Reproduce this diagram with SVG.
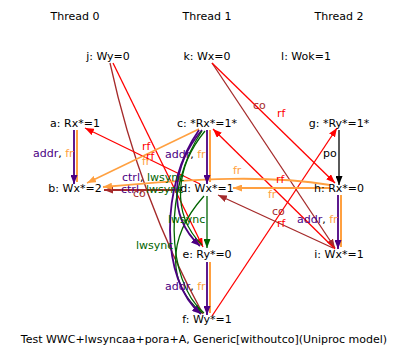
<svg xmlns="http://www.w3.org/2000/svg" width="410" height="361" viewBox="0 0 410 361">
<style>
text{font-family:"DejaVu Sans",sans-serif;font-size:11px;fill:#000}
.t{text-anchor:middle}
.e{fill:none;stroke-width:1.3}
.ind{stroke:#4b0082;stroke-width:1.8}
.org{stroke:#ffa040;stroke-width:2}
.grn{stroke:#006400}
.red{stroke:#ff0000}
.brn{stroke:#a52a2a}
.blk{stroke:#000}
.li{fill:#4b0082}.lo{fill:#ffa040}.lg{fill:#006400}.lr{fill:#ff0000}.lb{fill:#a52a2a}
</style>
<defs>
<marker id="mi" markerUnits="userSpaceOnUse" markerWidth="9" markerHeight="7" refX="9" refY="3.5" orient="auto"><path d="M0,0L9,3.5L0,7z" fill="#4b0082"/></marker>
<marker id="mo" markerUnits="userSpaceOnUse" markerWidth="9" markerHeight="7" refX="9" refY="3.5" orient="auto"><path d="M0,0L9,3.5L0,7z" fill="#ffa040"/></marker>
<marker id="mg" markerUnits="userSpaceOnUse" markerWidth="9" markerHeight="7" refX="9" refY="3.5" orient="auto"><path d="M0,0L9,3.5L0,7z" fill="#006400"/></marker>
<marker id="mr" markerUnits="userSpaceOnUse" markerWidth="9" markerHeight="7" refX="9" refY="3.5" orient="auto"><path d="M0,0L9,3.5L0,7z" fill="#ff0000"/></marker>
<marker id="mb" markerUnits="userSpaceOnUse" markerWidth="9" markerHeight="7" refX="9" refY="3.5" orient="auto"><path d="M0,0L9,3.5L0,7z" fill="#a52a2a"/></marker>
<marker id="mk" markerUnits="userSpaceOnUse" markerWidth="9" markerHeight="7" refX="9" refY="3.5" orient="auto"><path d="M0,0L9,3.5L0,7z" fill="#000"/></marker>
</defs>
<rect width="410" height="361" fill="#fff"/>
<g id="threads">
<text class="t" x="75" y="20">Thread 0</text>
<text class="t" x="207" y="20">Thread 1</text>
<text class="t" x="339" y="20">Thread 2</text>
</g>
<g id="edges">
<!-- co / rf / fr long edges -->
<path class="e brn" d="M110,63 Q140,200 203,314"/>
<path class="e red" d="M113,63 L203,247" marker-end="url(#mr)"/>
<path class="e brn" d="M212,63 L335,248" marker-end="url(#mb)"/>
<path class="e red" d="M212,63 L335,183" marker-end="url(#mr)"/>
<path class="e red" d="M200,184 L85,128" marker-end="url(#mr)"/>
<path class="e org" style="stroke-width:1.5" d="M199,129 L87,183" marker-end="url(#mo)"/>
<path class="e red" d="M335,249 L213,129" marker-end="url(#mr)"/>
<path class="e red" d="M212,316 L337,128" marker-end="url(#mr)"/>
<path class="e brn" d="M333,248 L218,195" marker-end="url(#mb)"/>
<path class="e brn" style="stroke-width:1.8" d="M182,190 L104,190" marker-end="url(#mb)"/>
<path class="e org" d="M330,188 L233,188" marker-end="url(#mo)"/>
<path class="e org" d="M330,185 C270,175 200,178 103,187" marker-end="url(#mo)"/>
<!-- po -->
<path class="e blk" d="M339,130 L339,185" marker-end="url(#mk)"/>
<!-- addr, fr -->
<path class="e org" d="M77,130 L77,182"/>
<path class="e ind" d="M74,130 L74,184" marker-end="url(#mi)"/>
<path class="e org" d="M210,130 L210,182"/>
<path class="e ind" d="M207,130 L207,184" marker-end="url(#mi)"/>
<path class="e org" d="M210,262 L210,313"/>
<path class="e ind" d="M207,262 L207,315" marker-end="url(#mi)"/>
<path class="e org" d="M341,195 L341,247"/>
<path class="e ind" d="M338,195 L338,249" marker-end="url(#mi)"/>
<!-- lwsync -->
<path class="e grn" d="M207,196 L207,248" marker-end="url(#mg)"/>
<path class="e grn" d="M204,196 C165,240 168,285 202,313" marker-end="url(#mg)"/>
<!-- ctrl, lwsync -->
<path class="e grn" d="M205,131 C176,166 170,213 202,245"/>
<path class="e ind" d="M202,130 C172,165 166,215 200,246" marker-end="url(#mi)"/>
<path class="e grn" d="M202,131 C164,186 165,280 204,313"/>
<path class="e ind" d="M199,130 C160,185 160,280 201,314" marker-end="url(#mi)"/>
</g>
<g id="labels">
<text x="33" y="157"><tspan class="li">addr</tspan>, <tspan class="lo">fr</tspan></text>
<text x="165" y="158"><tspan class="li">addr</tspan>, <tspan class="lo">fr</tspan></text>
<text x="165" y="290"><tspan class="li">addr</tspan>, <tspan class="lo">fr</tspan></text>
<text x="297" y="223"><tspan class="li">addr</tspan>, <tspan class="lo">fr</tspan></text>
<text x="323" y="157">po</text>
<text class="lg" x="168" y="223">lwsync</text>
<text class="lg" x="136" y="249">lwsync</text>
<text x="122" y="181"><tspan class="li">ctrl</tspan>, <tspan class="lg">lwsync</tspan></text>
<text x="121" y="193"><tspan class="li">ctrl</tspan>, <tspan class="lg">lwsync</tspan></text>
<text class="lb" x="133" y="197">co</text>
<text class="lb" x="253" y="109">co</text>
<text class="lr" x="277" y="117">rf</text>
<text class="lr" x="142" y="150">rf</text>
<text class="lr" x="146" y="160">rf</text>
<text class="lo" x="142" y="165">fr</text>
<text class="lo" x="233" y="174">fr</text>
<text class="lr" x="276" y="183">rf</text>
<text class="lo" x="268" y="198">fr</text>
<text class="lb" x="272" y="215">co</text>
<text class="lr" x="277" y="227">rf</text>
</g>
<g id="j"><text class="t" x="108" y="60">j: Wy=0</text></g>
<g id="k"><text class="t" x="207" y="60">k: Wx=0</text></g>
<g id="l"><text class="t" x="306" y="60">l: Wok=1</text></g>
<g id="a"><text class="t" x="75" y="127">a: Rx*=1</text></g>
<g id="c"><text class="t" x="207" y="127">c: *Rx*=1*</text></g>
<g id="g"><text class="t" x="339" y="127">g: *Ry*=1*</text></g>
<g id="b"><text class="t" x="75" y="192">b: Wx*=2</text></g>
<g id="d"><text class="t" x="207" y="192">d: Wx*=1</text></g>
<g id="h"><text class="t" x="339" y="192">h: Rx*=0</text></g>
<g id="e"><text class="t" x="207" y="258">e: Ry*=0</text></g>
<g id="i"><text class="t" x="339" y="258">i: Wx*=1</text></g>
<g id="f"><text class="t" x="207" y="323">f: Wy*=1</text></g>
<text class="t" x="204" y="343">Test WWC+lwsyncaa+pora+A, Generic[withoutco](Uniproc model)</text>
</svg>
